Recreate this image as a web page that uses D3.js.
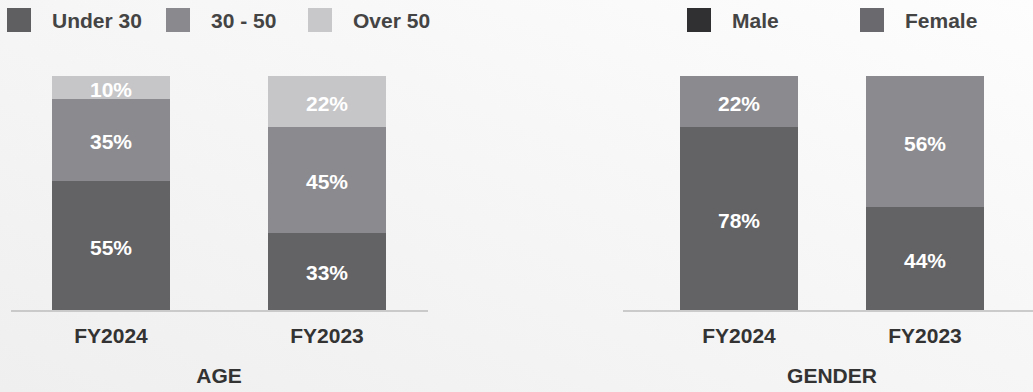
<!DOCTYPE html>
<html>
<head>
<meta charset="utf-8">
<script src="https://cdn.jsdelivr.net/npm/d3@7"></script>
<style>
  html, body { margin: 0; padding: 0; }
  svg { display: block; font-family: "Liberation Sans", Arial, Helvetica, sans-serif; }
</style>
</head>
<body>
<svg id="chart" width="1033" height="392"></svg>
<script>
// Workforce composition, share of employees (%)
const years = ["FY2024", "FY2023"];

const ageGroups = ["Under 30", "30 - 50", "Over 50"];
const ageUnder30 = [55, 33];
const age30to50 = [35, 45];
const ageOver50 = [10, 22];

const genders = ["Male", "Female"];
const genderMale = [78, 44];
const genderFemale = [22, 56];

const barColors = ["#636365", "#8b8b8f", "#c6c6c8"];
const ageLegendColors = ["#5f5f61", "#8a8a8e", "#c8c8ca"];
const genderLegendColors = ["#302f31", "#6a6a6e"];

const W = 1033, H = 392;
const svg = d3.select("#chart");

// soft page background
const defs = svg.append("defs");
const grad = defs.append("linearGradient").attr("id", "bg")
  .attr("x1", "0%").attr("y1", "100%").attr("x2", "100%").attr("y2", "0%");
grad.append("stop").attr("offset", "0%").attr("stop-color", "#efefef");
grad.append("stop").attr("offset", "60%").attr("stop-color", "#f7f7f7");
grad.append("stop").attr("offset", "100%").attr("stop-color", "#fdfdfd");
svg.append("rect").attr("width", W).attr("height", H).attr("fill", "url(#bg)");

const y = d3.scaleLinear().domain([0, 100]).range([310, 76]);

function panel(cfg) {
  const g = svg.append("g");
  const x = d3.scaleBand().domain(years).range(cfg.barRange)
    .paddingInner(cfg.padding).paddingOuter(0);

  // build stacked rows
  const rows = years.map((yr, i) => {
    const r = { year: yr };
    cfg.keys.forEach((k, j) => { r[k] = cfg.series[j][i]; });
    return r;
  });
  const stacked = d3.stack().keys(cfg.keys)(rows);

  const layers = g.selectAll("g.layer").data(stacked).join("g")
    .attr("class", "layer")
    .attr("fill", (d, i) => barColors[i]);

  layers.selectAll("rect").data(d => d).join("rect")
    .attr("shape-rendering", "crispEdges")
    .attr("x", d => x(d.data.year))
    .attr("width", x.bandwidth())
    .attr("y", d => Math.round(y(d[1])))
    .attr("height", d => Math.round(y(d[0])) - Math.round(y(d[1])));

  layers.selectAll("text").data(d => d).join("text")
    .attr("x", d => x(d.data.year) + x.bandwidth() / 2)
    .attr("y", d => (y(d[0]) + y(d[1])) / 2 + 1.5)
    .attr("text-anchor", "middle")
    .attr("dominant-baseline", "central")
    .attr("fill", "#ffffff")
    .attr("font-weight", "bold")
    .attr("font-size", 21)
    .text(d => (d[1] - d[0]) + "%");

  // baseline
  g.append("line")
    .attr("x1", cfg.lineRange[0]).attr("x2", cfg.lineRange[1])
    .attr("y1", y(0) + 1).attr("y2", y(0) + 1)
    .attr("stroke", "#bdbdbd").attr("stroke-width", 1.5);

  // category axis
  const axis = g.append("g").attr("transform", `translate(0,${y(0)})`)
    .call(d3.axisBottom(x).tickSize(0).tickPadding(18));
  axis.select(".domain").remove();
  axis.selectAll("text")
    .attr("font-family", "Liberation Sans, Arial, sans-serif")
    .attr("font-size", 21).attr("font-weight", "bold").attr("fill", "#333333");

  // panel title
  const mid = (x(years[0]) + x(years[1]) + x.bandwidth()) / 2;
  g.append("text").attr("x", mid).attr("y", 383)
    .attr("text-anchor", "middle").attr("font-size", 21).attr("font-weight", "bold")
    .attr("fill", "#333333").text(cfg.title);

  // legend
  const lg = g.selectAll("g.legend").data(cfg.keys).join("g")
    .attr("class", "legend")
    .attr("transform", (d, i) => `translate(${cfg.legendX[i]},8)`);
  lg.append("rect").attr("width", 24).attr("height", 24)
    .attr("fill", (d, i) => cfg.legendColors[i]);
  lg.append("text").attr("x", 45).attr("y", 20)
    .attr("font-size", 21).attr("font-weight", "bold").attr("fill", "#444444")
    .text(d => d);
}

panel({
  title: "AGE",
  keys: ageGroups,
  series: [ageUnder30, age30to50, ageOver50],
  barRange: [52, 386],
  padding: 98 / 216,
  lineRange: [11, 428],
  legendX: [7, 166, 308],
  legendColors: ageLegendColors
});

panel({
  title: "GENDER",
  keys: genders,
  series: [genderMale, genderFemale],
  barRange: [680, 984],
  padding: 68 / 186,
  lineRange: [623, 1033],
  legendX: [687, 860],
  legendColors: genderLegendColors
});
</script>
</body>
</html>
